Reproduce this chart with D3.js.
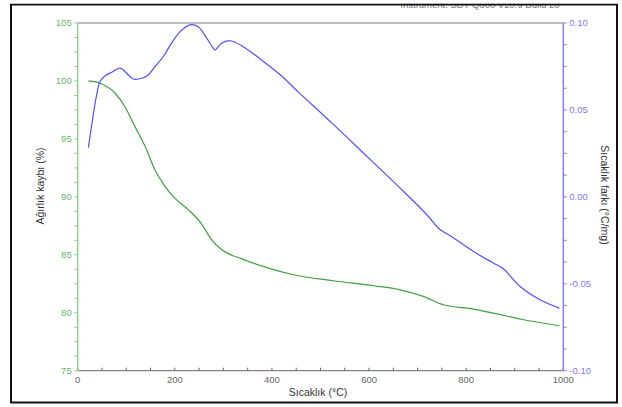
<!DOCTYPE html>
<html><head><meta charset="utf-8">
<script src="https://cdn.jsdelivr.net/npm/d3@7"></script>
<style>body{margin:0;background:#fff}svg{display:block;font-family:"Liberation Sans",Arial,sans-serif}</style>
</head><body><svg id="c" width="622" height="407"></svg>
<script>
// Weight loss (TGA) series: temperature (°C) and weight (%)
const tgaTemp = [22,46,77,97,118,139,159,180,200,228,252,276,296,338,393,444,526,609,664,712,753,815,856,911,992];
const tgaWeight = [100.0,99.8,98.94,97.8,96.06,94.34,92.33,90.89,89.89,88.88,87.85,86.29,85.45,84.65,83.85,83.28,82.76,82.33,81.98,81.41,80.69,80.32,79.97,79.46,78.88];
// Temperature difference (DTA) series: temperature (°C) and °C/mg
const dtaTemp = [22,32,39,46,56,70,87,101,114,132,145,159,176,193,211,231,248,266,279,283,296,314,341,375,417,454,526,595,664,719,746,767,815,856,876,911,952,992];
const dtaValue = [0.0283,0.0471,0.0586,0.0663,0.0695,0.0717,0.0740,0.0711,0.0678,0.0682,0.0701,0.0749,0.0806,0.0883,0.0950,0.0989,0.0979,0.0912,0.0855,0.0845,0.0883,0.0898,0.0864,0.0795,0.0702,0.0604,0.0418,0.0234,0.0050,-0.0103,-0.0188,-0.0224,-0.0314,-0.0381,-0.0412,-0.0516,-0.0592,-0.0640];
const xTicks = [0,200,400,600,800,1000];
const leftTicks = [75,80,85,90,95,100,105];
const rightTicks = [-0.10,-0.05,0.00,0.05,0.10];
const title = "Instrument: SDT Q600 V20.9 Build 20";

const svg = d3.select("#c");
const L = 77.7, R = 563.3, T = 23, B = 370.7;
const x = d3.scaleLinear().domain([0,1000]).range([L,R]);
const yL = d3.scaleLinear().domain([75,105]).range([B,T]);
const yR = d3.scaleLinear().domain([-0.10,0.10]).range([B,T]);

// title (clipped at top)
svg.append("text").attr("x",480).attr("y",7.5).attr("text-anchor","middle")
  .attr("font-size",9.5).attr("fill","#777").text(title);

// top gray line
svg.append("line").attr("x1",L).attr("x2",R).attr("y1",T).attr("y2",T)
  .attr("stroke","#aaa").attr("stroke-width",1.5);

// bottom axis
const gx = svg.append("g");
gx.append("line").attr("x1",L).attr("x2",R).attr("y1",B).attr("y2",B).attr("stroke","#666").attr("stroke-width",1);
d3.range(0,1001,50).forEach(v=>{
  gx.append("line").attr("x1",x(v)).attr("x2",x(v)).attr("y1",B).attr("y2",B-3).attr("stroke","#666");
});
xTicks.forEach(v=>{
  gx.append("text").attr("x",x(v)).attr("y",383).attr("text-anchor","middle")
    .attr("font-size",9.5).attr("fill","#666").text(v);
});

// left axis
const gl = svg.append("g");
gl.append("line").attr("x1",L).attr("x2",L).attr("y1",T).attr("y2",B).attr("stroke","#8fd08f").attr("stroke-width",1.5);
d3.range(75,105.01,1.25).forEach(v=>{
  gl.append("line").attr("x1",L-3.5).attr("x2",L).attr("y1",yL(v)).attr("y2",yL(v)).attr("stroke","#8fd08f");
});
leftTicks.forEach(v=>{
  gl.append("text").attr("x",L-6).attr("y",yL(v)+3.3).attr("text-anchor","end")
    .attr("font-size",9.5).attr("fill","#66b866").text(v);
});

// right axis
const gr = svg.append("g");
gr.append("line").attr("x1",R).attr("x2",R).attr("y1",T).attr("y2",B).attr("stroke","#8080ff").attr("stroke-width",1.5);
d3.range(-0.10,0.1001,0.0125).forEach(v=>{
  gr.append("line").attr("x1",R).attr("x2",R+3.5).attr("y1",yR(v)).attr("y2",yR(v)).attr("stroke","#8080ff");
});
rightTicks.forEach(v=>{
  gr.append("text").attr("x",R+6).attr("y",yR(v)+3.3).attr("text-anchor","start")
    .attr("font-size",9.5).attr("fill","#7a7aff").text(d3.format(".2f")(v).replace("−","-"));
});

// axis titles
svg.append("text").attr("transform","translate(44,186) rotate(-90)").attr("text-anchor","middle")
  .attr("font-size",10.5).attr("fill","#333").text("Ağırlık kaybı (%)");
svg.append("text").attr("transform","translate(601,195) rotate(90)").attr("text-anchor","middle")
  .attr("font-size",10.5).attr("fill","#333").text("Sıcaklık farkı (°C/mg)");
svg.append("text").attr("x",318).attr("y",396).attr("text-anchor","middle")
  .attr("font-size",10.5).attr("fill","#333").text("Sıcaklık (°C)");

// lines
const tga = tgaTemp.map((t,i)=>[t,tgaWeight[i]]);
const dta = dtaTemp.map((t,i)=>[t,dtaValue[i]]);
svg.append("path").datum(tga).attr("fill","none").attr("stroke","#3f9f3f").attr("stroke-width",1.2)
  .attr("d",d3.line().x(d=>x(d[0])).y(d=>yL(d[1])).curve(d3.curveMonotoneX));
svg.append("path").datum(dta).attr("fill","none").attr("stroke","#5050ff").attr("stroke-width",1.2)
  .attr("d",d3.line().x(d=>x(d[0])).y(d=>yR(d[1])).curve(d3.curveCatmullRom));

// outer frame
svg.append("rect").attr("x",11).attr("y",4.5).attr("width",606).attr("height",398)
  .attr("fill","none").attr("stroke","#111").attr("stroke-width",2);
svg.append("rect").attr("x",0).attr("y",0).attr("width",622).attr("height",3.5).attr("fill","#fff");
</script></body></html>
